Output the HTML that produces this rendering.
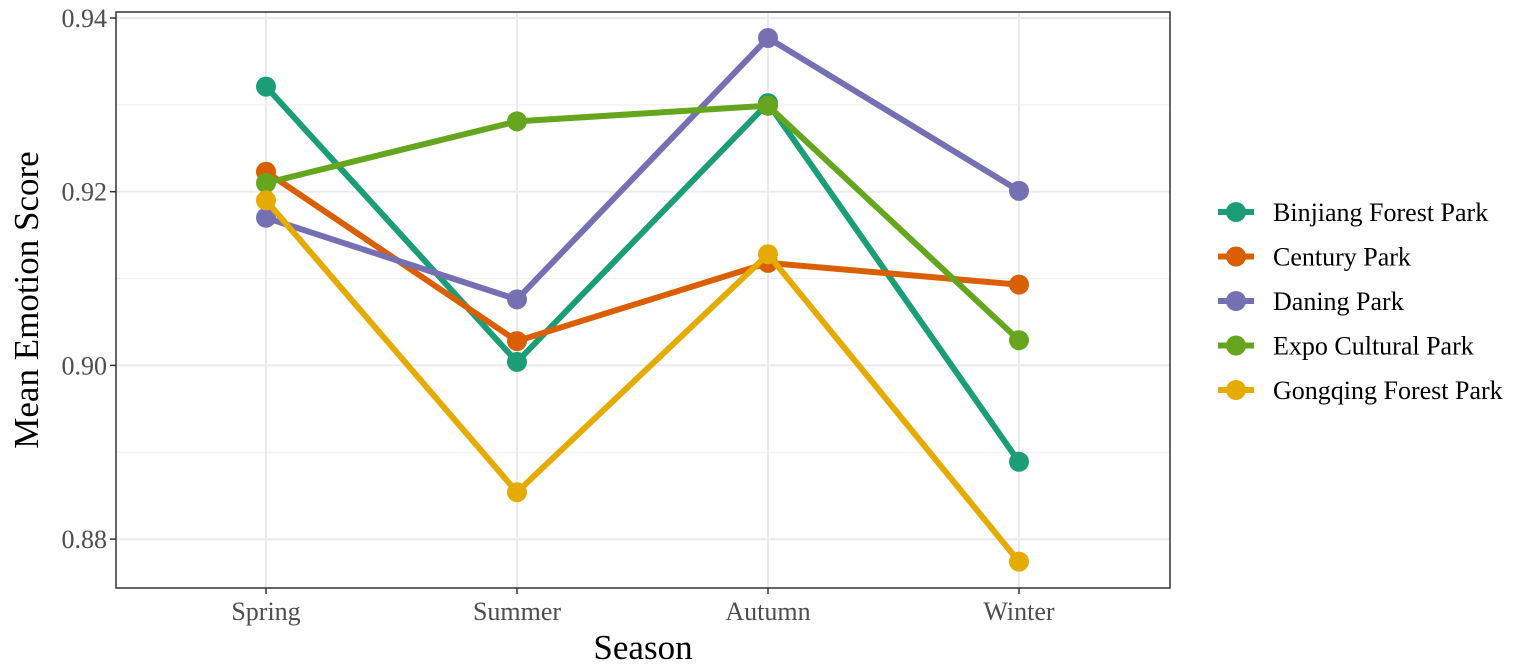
<!DOCTYPE html>
<html><head><meta charset="utf-8"><style>
body{margin:0;background:#fff;}
svg{display:block;font-family:"Liberation Serif",serif;}
</style></head><body>
<svg id="chart" width="1535" height="667"></svg>
<script>
const categories=["Spring","Summer","Autumn","Winter"];
const seriesNames=["Binjiang Forest Park","Century Park","Daning Park","Expo Cultural Park","Gongqing Forest Park"];
const binjiang=[0.9321,0.9004,0.9302,0.8889];
const century=[0.9223,0.9028,0.9118,0.9093];
const daning=[0.9170,0.9076,0.9377,0.9201];
const expo=[0.9210,0.9281,0.9299,0.9029];
const gongqing=[0.9190,0.8854,0.9128,0.8774];
const yTicks=[0.88,0.90,0.92,0.94];
const yMinor=[0.89,0.91,0.93];
const colors=["#1b9e77","#d95f02","#7570b3","#66a61e","#e6ab02"];
const series=[binjiang,century,daning,expo,gongqing];
const NS="http://www.w3.org/2000/svg";
const svg=document.getElementById('chart');
const L=116,R=1170,T=12,B=588;
const x=i=>266+i*251;
const y=v=>18+(0.94-v)/0.02*173.7;
function el(t,a,p){const e=document.createElementNS(NS,t);for(const k in a)e.setAttribute(k,a[k]);(p||svg).appendChild(e);return e;}
const bg=el('rect',{x:L,y:T,width:R-L,height:B-T,fill:'#fff'});


yMinor.forEach(v=>{const g=el('line',{x1:L,x2:R,y1:y(v),y2:y(v),stroke:'#f0f0f0','stroke-width':1.2});

});
categories.forEach((c,i)=>{const g=el('line',{x1:x(i),x2:x(i),y1:T,y2:B,stroke:'#ebebeb','stroke-width':2});


const tk=el('line',{x1:x(i),x2:x(i),y1:B,y2:B+6,stroke:'#333','stroke-width':1.5});


const t=el('text',{x:x(i),y:620,'text-anchor':'middle','font-size':26,fill:'#4d4d4d'});t.textContent=c;

});
yTicks.forEach(v=>{const g=el('line',{x1:L,x2:R,y1:y(v),y2:y(v),stroke:'#ebebeb','stroke-width':2});


const tk=el('line',{x1:L-6,x2:L,y1:y(v),y2:y(v),stroke:'#333','stroke-width':1.5});


const t=el('text',{x:L-9,y:y(v)+9,'text-anchor':'end','font-size':26,fill:'#4d4d4d'});t.textContent=v.toFixed(2);

});
series.forEach((s,k)=>{const pl=el('polyline',{points:s.map((v,i)=>x(i)+','+y(v)).join(' '),fill:'none',stroke:colors[k],'stroke-width':6});


s.forEach((v,i)=>{const c=el('circle',{cx:x(i),cy:y(v),r:10,fill:colors[k]});

});});
const br=el('rect',{x:L,y:T,width:R-L,height:B-T,fill:'none',stroke:'#333','stroke-width':1.5});


const xt=el('text',{x:643,y:659,'text-anchor':'middle','font-size':35});xt.textContent='Season';


const yt=el('text',{x:0,y:0,'text-anchor':'middle','font-size':35,transform:'translate(38,300) rotate(-90)'});yt.textContent='Mean Emotion Score';


seriesNames.forEach((n,k)=>{const yy=212+k*44.5;
const g=el('g',{});


el('line',{x1:1218,x2:1254,y1:yy,y2:yy,stroke:colors[k],'stroke-width':6},g);
el('circle',{cx:1236,cy:yy,r:10,fill:colors[k]},g);
const t=el('text',{x:1273,y:yy+9,'font-size':26,fill:'#000'},g);t.textContent=n;});
</script>
</body></html>
